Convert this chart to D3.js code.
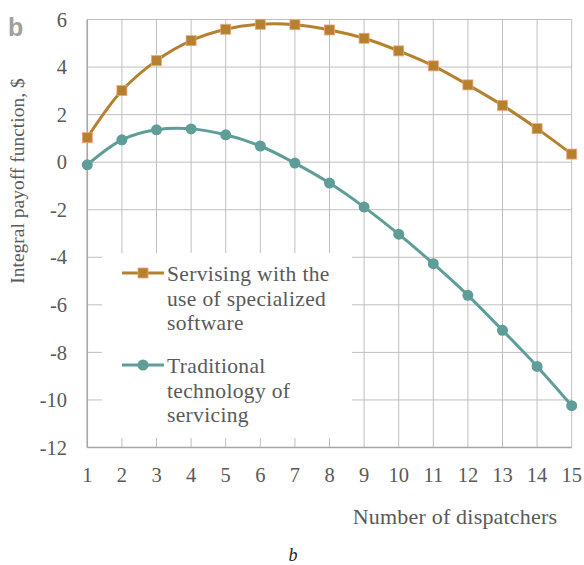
<!DOCTYPE html>
<html>
<head>
<meta charset="utf-8">
<script src="https://cdn.jsdelivr.net/npm/d3@7"></script>
<style>
  body { margin: 0; background: #fff; }
  text { font-family: "Liberation Serif", "Times New Roman", serif; }
</style>
</head>
<body>
<svg id="chart"></svg>
<script>
// Data
const dispatchers = [1, 2, 3, 4, 5, 6, 7, 8, 9, 10, 11, 12, 13, 14, 15];
const softwareSeries = [1.03, 3.01, 4.27, 5.11, 5.59, 5.80, 5.78, 5.56, 5.21, 4.68, 4.05, 3.25, 2.39, 1.41, 0.34];
const traditionalSeries = [-0.11, 0.94, 1.36, 1.40, 1.15, 0.68, -0.04, -0.88, -1.89, -3.03, -4.27, -5.60, -7.07, -8.59, -10.24];
const yTicks = [-12, -10, -8, -6, -4, -2, 0, 2, 4, 6];
const softwareLabel = ["Servising with the", "use of specialized", "software"];
const traditionalLabel = ["Traditional", "technology of", "servicing"];

const W = 584, H = 565;
const orange = "#b5812f", orangeEdge = "#f0a27a";
const teal = "#5f9e98";
const textCol = "#595959";

const svg = d3.select("#chart")
    .attr("width", W)
    .attr("height", H);

// scales
const x = d3.scaleLinear().domain([1, 15]).range([87.3, 571.7]);
const y = d3.scaleLinear().domain([-12, 6]).range([447.5, 19.5]);

// grid lines
svg.append("g")
    .selectAll("line")
    .data(dispatchers)
    .enter().append("line")
    .attr("x1", d => x(d)).attr("x2", d => x(d))
    .attr("y1", y(6)).attr("y2", y(-12))
    .attr("stroke", "#bfbfbf").attr("stroke-width", 1);

svg.append("g")
    .selectAll("line")
    .data(yTicks)
    .enter().append("line")
    .attr("x1", x(1)).attr("x2", x(15))
    .attr("y1", d => y(d)).attr("y2", d => y(d))
    .attr("stroke", "#bfbfbf").attr("stroke-width", 1);

// legend background hides the grid behind it
svg.append("rect")
    .attr("x", 102).attr("y", 253)
    .attr("width", 250).attr("height", 185)
    .attr("fill", "#fff");

// axis lines
svg.append("line")
    .attr("x1", x(1)).attr("x2", x(1))
    .attr("y1", y(6)).attr("y2", y(-12))
    .attr("stroke", "#a6a6a6").attr("stroke-width", 1.5);
svg.append("line")
    .attr("x1", x(1)).attr("x2", x(15))
    .attr("y1", y(-12)).attr("y2", y(-12))
    .attr("stroke", "#a6a6a6").attr("stroke-width", 1.5);

// tick labels
svg.append("g")
    .selectAll("text")
    .data(yTicks)
    .enter().append("text")
    .attr("x", 67)
    .attr("y", d => y(d))
    .attr("dy", "0.35em")
    .attr("text-anchor", "end")
    .style("font-size", "20.5px")
    .attr("fill", textCol)
    .text(d => d);

svg.append("g")
    .selectAll("text")
    .data(dispatchers)
    .enter().append("text")
    .attr("x", d => x(d))
    .attr("y", 482)
    .attr("text-anchor", "middle")
    .style("font-size", "20.5px")
    .attr("fill", textCol)
    .text(d => d);

// axis titles
svg.append("text")
    .attr("transform", "translate(24,181) rotate(-90)")
    .attr("text-anchor", "middle")
    .style("font-size", "19.5px")
    .attr("fill", textCol)
    .text("Integral payoff function, $");

svg.append("text")
    .attr("x", 455)
    .attr("y", 524)
    .attr("text-anchor", "middle")
    .style("font-size", "22px")
    .style("letter-spacing", "0.2px")
    .attr("fill", textCol)
    .text("Number of dispatchers");

// panel letters
svg.append("text")
    .attr("x", 8).attr("y", 36)
    .style("font-family", "'Liberation Sans', Arial, sans-serif")
    .style("font-size", "25px")
    .style("font-weight", "bold")
    .attr("fill", "#a0a0a0")
    .text("b");

svg.append("text")
    .attr("x", 293).attr("y", 561)
    .attr("text-anchor", "middle")
    .style("font-size", "18px")
    .style("font-style", "italic")
    .attr("fill", "#222")
    .text("b");

// lines
const line = d3.line()
    .x((d, i) => x(dispatchers[i]))
    .y(d => y(d))
    .curve(d3.curveCatmullRom.alpha(0.5));

svg.append("path")
    .datum(softwareSeries)
    .attr("d", line)
    .attr("fill", "none")
    .attr("stroke", orange)
    .attr("stroke-width", 3);

svg.append("path")
    .datum(traditionalSeries)
    .attr("d", line)
    .attr("fill", "none")
    .attr("stroke", teal)
    .attr("stroke-width", 3);

// markers
svg.append("g")
    .selectAll("rect")
    .data(softwareSeries)
    .enter().append("rect")
    .attr("x", (d, i) => x(dispatchers[i]) - 5)
    .attr("y", d => y(d) - 5)
    .attr("width", 10).attr("height", 10)
    .attr("fill", orange)
    .attr("stroke", orangeEdge).attr("stroke-width", 0.8);

svg.append("g")
    .selectAll("circle")
    .data(traditionalSeries)
    .enter().append("circle")
    .attr("cx", (d, i) => x(dispatchers[i]))
    .attr("cy", d => y(d))
    .attr("r", 5.5)
    .attr("fill", teal);

// legend
const legend = [
    { label: softwareLabel, color: orange, cy: 273, marker: "square" },
    { label: traditionalLabel, color: teal, cy: 365, marker: "circle" }
];

legend.forEach(item => {
    const g = svg.append("g");
    g.append("line")
        .attr("x1", 122).attr("x2", 164)
        .attr("y1", item.cy).attr("y2", item.cy)
        .attr("stroke", item.color).attr("stroke-width", 3);
    if (item.marker === "square") {
        g.append("rect")
            .attr("x", 138).attr("y", item.cy - 5)
            .attr("width", 10).attr("height", 10)
            .attr("fill", item.color)
            .attr("stroke", orangeEdge).attr("stroke-width", 0.8);
    } else {
        g.append("circle")
            .attr("cx", 143).attr("cy", item.cy)
            .attr("r", 5.5)
            .attr("fill", item.color);
    }
    g.selectAll("text")
        .data(item.label)
        .enter().append("text")
        .attr("x", 167)
        .attr("y", (d, i) => item.cy + 8 + i * 24.5)
        .style("font-size", "21.5px")
        .style("letter-spacing", "0.35px")
        .attr("fill", textCol)
        .text(d => d);
});
</script>
</body>
</html>
